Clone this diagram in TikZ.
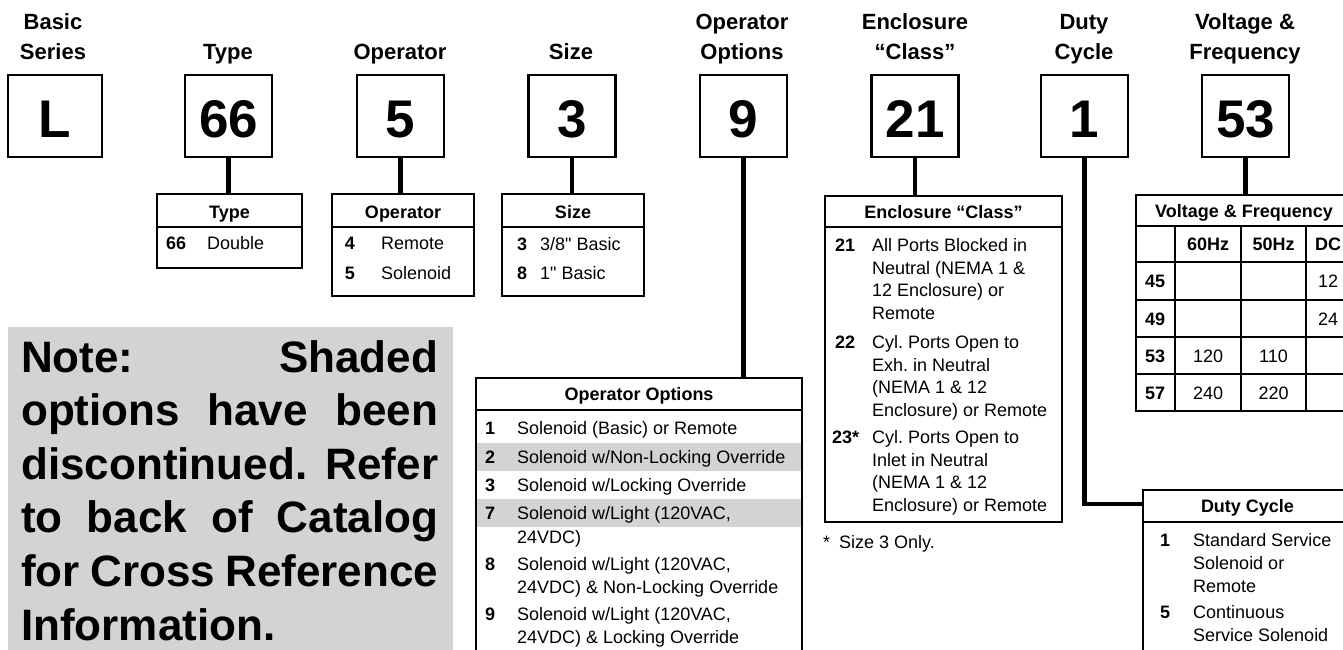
\documentclass[tikz,border=0pt]{standalone}
\usepackage{fontspec}
\setmainfont{Liberation Sans}
\newfontfamily\qfont{Liberation Sans}
\definecolor{greybg}{RGB}{209,211,212}
\frenchspacing
\begin{document}
\begin{tikzpicture}[x=1pt,y=-1pt,
  topbox/.style={draw, line width=2.4pt, minimum width=87pt, minimum height=82pt, inner sep=0pt, text height=42pt, text depth=0pt, font=\fontsize{53}{53}\selectfont\bfseries},
  hdr/.style={align=center, inner sep=0pt, anchor=base, font=\fontsize{22}{30}\selectfont\bfseries},
  tbl/.style={draw, line width=2.5pt, inner sep=0pt},
  divl/.style={line width=2pt},
  stem/.style={line width=4.5pt},
  th/.style={inner sep=0pt, anchor=base, font=\fontsize{18}{22}\selectfont\bfseries},
  num/.style={inner sep=0pt, anchor=base, font=\fontsize{18}{22}\selectfont\bfseries},
  numw/.style={inner sep=0pt, anchor=base west, font=\fontsize{18}{22}\selectfont\bfseries},
  txt/.style={inner sep=0pt, anchor=base west, align=left, font=\fontsize{18}{22.5}\selectfont},
  val/.style={inner sep=0pt, anchor=base, font=\fontsize{18}{22}\selectfont},
]
\useasboundingbox (0,0) rectangle (1343,650);
\clip (0,0) rectangle (1343,650);

% ---- column headings (base = last line)
\node[hdr] (hBasic) at (53,60) {Basic\\Series};
\node[hdr] (hType) at (228,60) {Type};
\node[hdr] (hOp) at (400,60) {Operator};
\node[hdr] (hSize) at (571,60) {Size};
\node[hdr] (hOpt) at (742,60) {Operator\\Options};
\node[hdr] (hEnc) at (915,60) {Enclosure\\“Class”};
\node[hdr] (hDuty) at (1084,60) {Duty\\Cycle};
\node[hdr] (hVolt) at (1245,60) {Voltage \&\\Frequency};

% ---- code boxes
\node[topbox, minimum width=94pt] (bL) at (55,116) {L};
\node[topbox] (bType) at (228.5,116) {66};
\node[topbox] (bOp) at (400.5,116) {5};
\node[topbox] (bSize) at (572,116) {3};
\node[topbox] (bOpt) at (743.5,116) {9};
\node[topbox] (bEnc) at (915,116) {21};
\node[topbox] (bDuty) at (1084.5,116) {1};
\node[topbox] (bVolt) at (1245.5,116) {53};

% ---- note
\fill[greybg] (8,327) rectangle (453,700);
\node[inner sep=0pt, anchor=base west, align=left, font=\fontsize{44}{53.6}\selectfont\bfseries] (note) at (21,640)
 {\makebox[417pt][s]{Note: Shaded}\\
  \makebox[417pt][s]{options have been}\\
  \makebox[417pt][s]{discontinued. Refer}\\
  \makebox[417pt][s]{to back of Catalog}\\
  \makebox[417pt][s]{for Cross Reference}\\
  Information.};

% ---- shaded rows in operator options
\fill[greybg] (476,443) rectangle (802,471);
\fill[greybg] (476,499) rectangle (802,527);

% ---- tables
\node[tbl, minimum width=145pt, minimum height=74pt] (tType) at (229.5,231) {};
\node[tbl, minimum width=142pt, minimum height=102pt] (tOp) at (403,245) {};
\node[tbl, minimum width=142pt, minimum height=102pt] (tSize) at (573,245) {};
\node[tbl, minimum width=326pt, minimum height=322pt] (tOpt) at (639,539) {};
\node[tbl, minimum width=237pt, minimum height=326pt] (tEnc) at (943.5,359) {};
\node[tbl, minimum width=216pt, minimum height=216pt] (tVolt) at (1244,303) {};
\node[tbl, minimum width=209pt, minimum height=210pt] (tDuty) at (1247.5,595) {};

\draw[divl] (157,227) -- (302,227);
\draw[divl] (332,227) -- (474,227);
\draw[divl] (502,227) -- (644,227);
\draw[divl] (476,410) -- (802,410);
\draw[divl] (825,227) -- (1062,227);
\draw[divl] (1136,226) -- (1352,226);
\foreach \yy in {262,300,337,374} \draw[divl] (1136,\yy) -- (1352,\yy);
\foreach \xx in {1175,1241,1306} \draw[divl] (\xx,226) -- (\xx,411);
\draw[divl] (1143,522) -- (1352,522);

% ---- connectors
\draw[stem] (bType.south) -- (bType.south |- tType.north);
\draw[stem] (bOp.south) -- (bOp.south |- tOp.north);
\draw[stem] (bSize.south) -- (bSize.south |- tSize.north);
\draw[stem] (bOpt.south) -- (bOpt.south |- tOpt.north);
\draw[stem] (bEnc.south) -- (bEnc.south |- tEnc.north);
\draw[stem] (bVolt.south) -- (bVolt.south |- tVolt.north);
\coordinate (dutyIn) at (1143,504);
\draw[stem] (bDuty.south) |- (dutyIn);

% ---- Type table
\node[th] (tyH) at (229.5,218.5) {Type};
\node[numw] (ty1n) at (166,249.5) {66};
\node[txt] (ty1t) at (207,249.5) {Double};

% ---- Operator table
\node[th] (opH) at (403,218.5) {Operator};
\node[num] (op1n) at (350,249.5) {4};
\node[txt] (op1t) at (381,249.5) {Remote};
\node[num] (op2n) at (350,279.5) {5};
\node[txt] (op2t) at (381,279.5) {Solenoid};

% ---- Size table
\node[th] (szH) at (573,218.5) {Size};
\node[num] (sz1n) at (522,250.5) {3};
\node[txt] (sz1t) at (540,250.5) {3/8{\qfont"} Basic};
\node[num] (sz2n) at (522,279) {8};
\node[txt] (sz2t) at (540,279) {1{\qfont"} Basic};

% ---- Operator options table
\node[th] (ooH) at (639,400.5) {Operator Options};
\node[num] (oo1n) at (490,434.5) {1};
\node[txt] (oo1t) at (517,434.5) {Solenoid (Basic) or Remote};
\node[num] (oo2n) at (490,463.5) {2};
\node[txt] (oo2t) at (517,463.5) {Solenoid w/Non-Locking Override};
\node[num] (oo3n) at (490,491.5) {3};
\node[txt] (oo3t) at (517,491.5) {Solenoid w/Locking Override};
\node[num] (oo7n) at (490,519.5) {7};
\node[txt, font=\fontsize{18}{24}\selectfont] (oo7t) at (517,543.5) {Solenoid w/Light (120VAC,\\24VDC)};
\node[num] (oo8n) at (490,570.5) {8};
\node[txt] (oo8t) at (517,593) {Solenoid w/Light (120VAC,\\24VDC) \& Non-Locking Override};
\node[num] (oo9n) at (490,620.5) {9};
\node[txt] (oo9t) at (517,643) {Solenoid w/Light (120VAC,\\24VDC) \& Locking Override};

% ---- Enclosure table
\node[th] (enH) at (943.5,218.5) {Enclosure “Class”};
\node[numw] (en1n) at (835,251.5) {21};
\node[txt, font=\fontsize{18}{22.7}\selectfont] (en1t) at (872,319.6) {All Ports Blocked in\\Neutral (NEMA 1 \&\\12 Enclosure) or\\Remote};
\node[numw] (en2n) at (835,348.5) {22};
\node[txt, font=\fontsize{18}{22.7}\selectfont] (en2t) at (872,416.6) {Cyl. Ports Open to\\Exh. in Neutral\\(NEMA 1 \& 12\\Enclosure) or Remote};
\node[numw] (en3n) at (832,443.5) {23*};
\node[txt, font=\fontsize{18}{22.7}\selectfont] (en3t) at (872,511.6) {Cyl. Ports Open to\\Inlet in Neutral\\(NEMA 1 \& 12\\Enclosure) or Remote};
\node[txt] (foot) at (823,548.5) {*\hspace{9pt}Size 3 Only.};

% ---- Voltage table
\node[th] (vH) at (1244,217) {Voltage \& Frequency};
\node[th] (vC1) at (1208,250.5) {60Hz};
\node[th] (vC2) at (1273.5,250.5) {50Hz};
\node[th] (vC3) at (1328,250.5) {DC};
\node[numw] (vR1) at (1145,287.5) {45};
\node[numw] (vR2) at (1145,325) {49};
\node[numw] (vR3) at (1145,362) {53};
\node[numw] (vR4) at (1145,399) {57};
\node[val] (v1c) at (1328,287.5) {12};
\node[val] (v2c) at (1328,325) {24};
\node[val] (v3a) at (1208,362) {120};
\node[val] (v3b) at (1273.5,362) {110};
\node[val] (v4a) at (1208,399) {240};
\node[val] (v4b) at (1273.5,399) {220};

% ---- Duty cycle table
\node[th] (dH) at (1247.5,512.5) {Duty Cycle};
\node[num] (d1n) at (1165,546.5) {1};
\node[txt, font=\fontsize{18}{23}\selectfont] (d1t) at (1193,592.5) {Standard Service\\Solenoid or\\Remote};
\node[num] (d2n) at (1165,618.5) {5};
\node[txt, font=\fontsize{18}{23}\selectfont] (d2t) at (1193,641.5) {Continuous\\Service Solenoid};
\end{tikzpicture}
\end{document}
